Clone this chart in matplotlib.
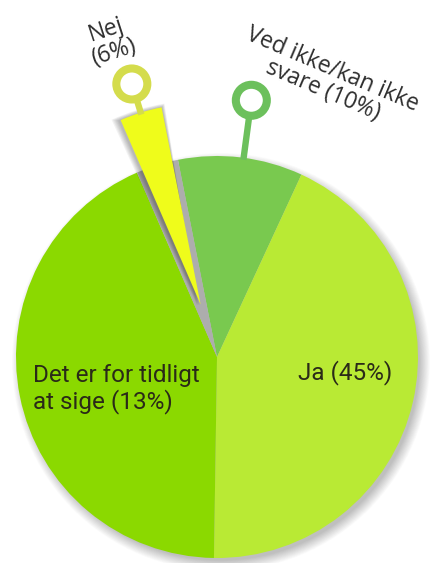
import matplotlib
matplotlib.use("Agg")
import matplotlib.pyplot as plt
from matplotlib.patches import Circle, Wedge
import numpy as np

# ---- data (shares as drawn in the picture) ----
categories = ["Ved ikke/kan ikke svare", "Ja", "Det er for tidligt at sige", "Nej"]
shares = [10.0, 43.3, 43.2, 3.4]
labels = ["Ved ikke/kan ikke\nsvare (10%)", "Ja (45%)", "Det er for tidligt\nat sige (13%)", "Nej\n(6%)"]
colors = ["#79c94f", "#b9ea34", "#8bd900", "#effc1b"]
ring_colors = {"Ved": "#6cc05c", "Nej": "#d4dc4c"}

W, H = 436, 563
fig = plt.figure(figsize=(W / 100, H / 100), dpi=100)
ax = fig.add_axes([0, 0, 1, 1])

cx, cy, R = 217, 206, 201
start = 101.2
explode_nej = 55  # pixels

# soft drop shadow of whole pie
for k in range(16):
    ax.add_patch(Circle((cx + 4, cy - 5), R + 8 - k * 0.7, color="black",
                        alpha=0.016, lw=0, zorder=1))

# base pie: Nej slot shown as gray gap
base_cols = colors[:3] + ["#adadad"]
wedges, _ = ax.pie(shares, colors=base_cols, startangle=start, counterclock=False,
                   center=(cx, cy), radius=R, frame=True,
                   wedgeprops=dict(linewidth=0, zorder=2))

# exploded Nej wedge
wedges2, _ = ax.pie(shares, colors=colors, startangle=start, counterclock=False,
                    center=(cx, cy), radius=R, frame=True,
                    explode=[0, 0, 0, explode_nej],
                    wedgeprops=dict(linewidth=0, zorder=5))
for w in wedges2[:3]:
    w.set_visible(False)
yw = wedges2[3]
# shadow of exploded wedge
for k in range(6):
    ax.add_patch(Wedge((yw.center[0] - 1 - k * 0.5, yw.center[1] - 1), yw.r + 1 + k * 0.5,
                       yw.theta1 - 0.5 - k * 0.3, yw.theta2 + 0.3 + k * 0.2,
                       color="black", alpha=0.05, lw=0, zorder=4))
ax.set_xlim(0, W)
ax.set_ylim(0, H)
ax.set_aspect("equal")
ax.axis("off")

def ring(center, theta_deg, r0, r1, color):
    t = np.deg2rad(theta_deg)
    ux, uy = np.cos(t), np.sin(t)
    ring_r = 15.5
    ax.plot([center[0] + ux * r0, center[0] + ux * (r1 - ring_r)],
            [center[1] + uy * r0, center[1] + uy * (r1 - ring_r)],
            color=color, lw=4.6, solid_capstyle="butt", zorder=6)
    ax.add_patch(Circle((center[0] + ux * r1, center[1] + uy * r1), ring_r,
                        fill=False, ec=color, lw=5.8, zorder=7))

vw = wedges[0]
ring(vw.center, (vw.theta1 + vw.theta2) / 2 - 0.8, R - 2, 259, ring_colors["Ved"])
ring(yw.center, (yw.theta1 + yw.theta2) / 2, yw.r - 2, 231, ring_colors["Nej"])

outer_font = dict(family="Open Sans", fontsize=16.5, color="#2e2e2e")
ax.text(110, H - 41, labels[3], rotation=18, ha="center", va="center",
        multialignment="center", linespacing=0.95, rotation_mode="anchor", **outer_font)
ax.text(328, H - 80, labels[0], rotation=-23, ha="center", va="center",
        multialignment="center", linespacing=0.95, rotation_mode="anchor", **outer_font)

inner_font = dict(family="Roboto", fontsize=17.5, color="#2a2a18")
ax.text(298, H - 373, labels[1], ha="left", va="center", **inner_font)
ax.text(33, H - 389, labels[2], ha="left", va="center", linespacing=1.1, **inner_font)

fig.savefig("out.png", dpi=100)
